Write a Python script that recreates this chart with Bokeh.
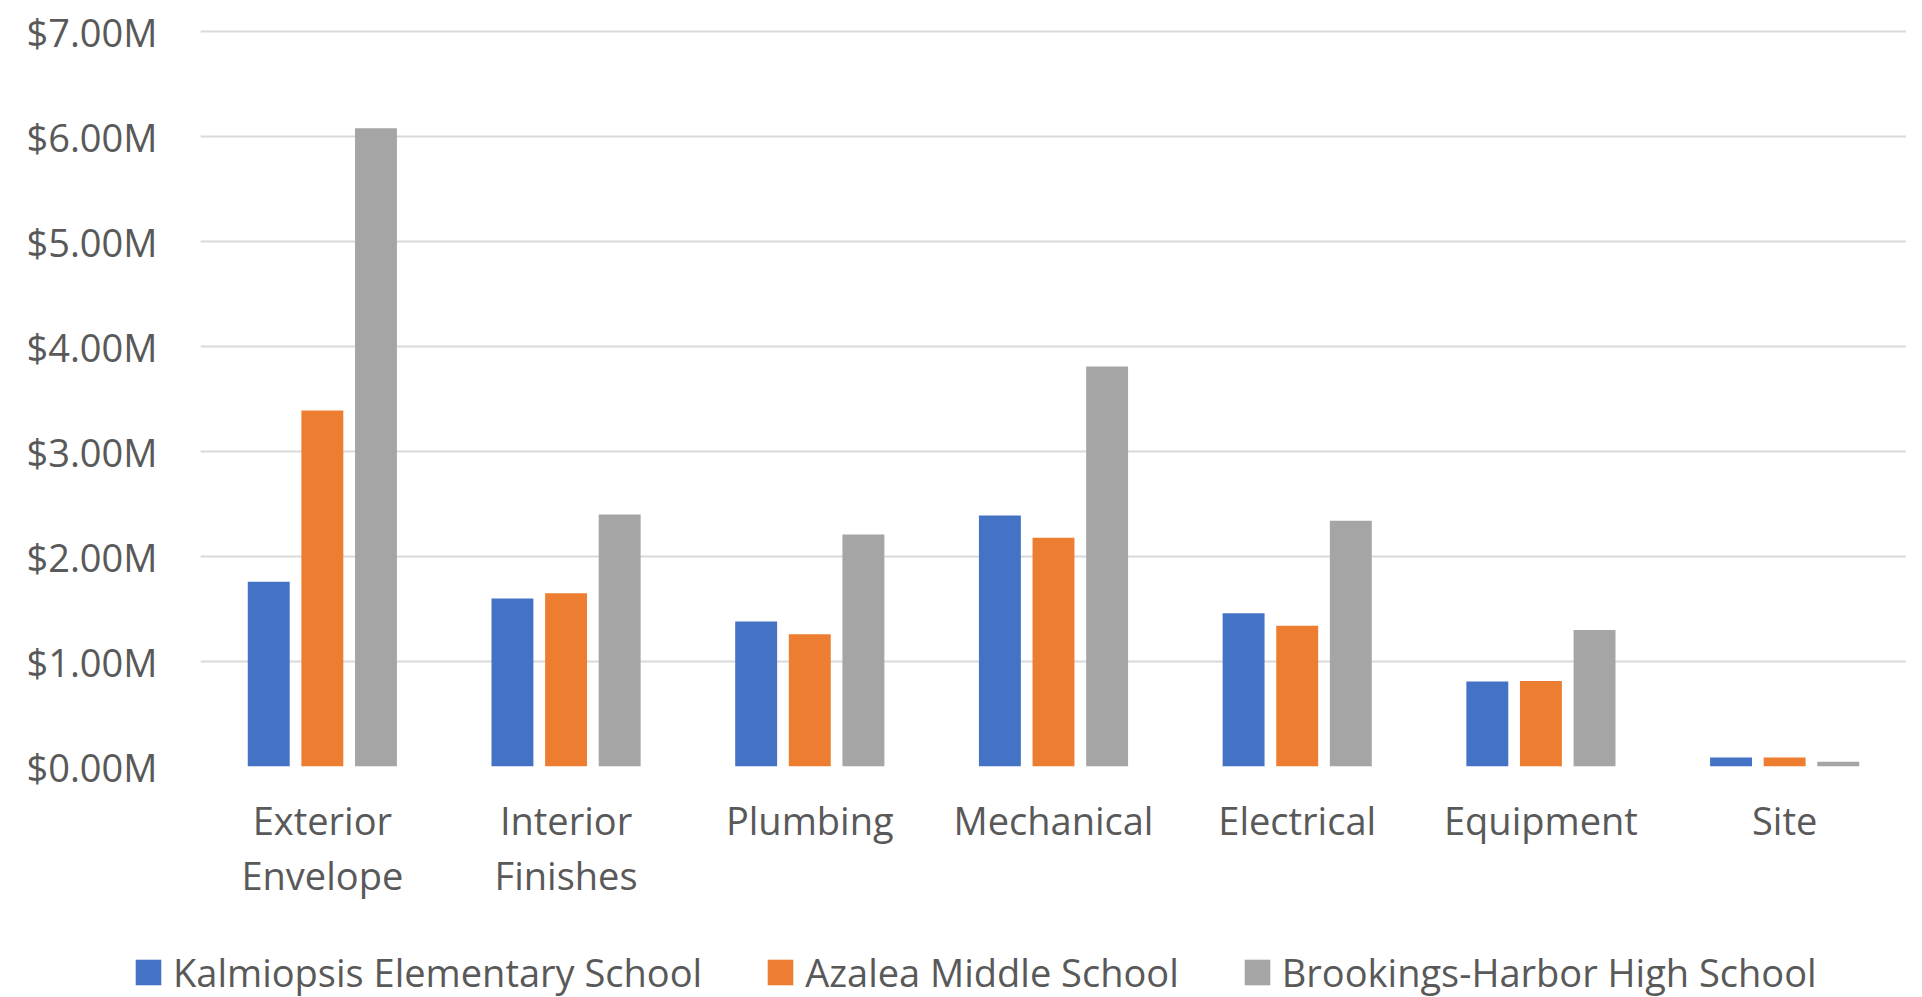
from bokeh.plotting import figure
from bokeh.models import (ColumnDataSource, FactorRange, Range1d, FixedTicker, PrintfTickFormatter,
                          Legend, LegendItem)
from bokeh.transform import dodge
from bokeh.embed import file_html
from bokeh.resources import INLINE

categories = ["Exterior\nEnvelope", "Interior\nFinishes", "Plumbing", "Mechanical",
              "Electrical", "Equipment", "Site"]
series_names = ["Kalmiopsis Elementary School", "Azalea Middle School", "Brookings-Harbor High School"]
# values in millions of dollars
kalmiopsis = [1.76, 1.60, 1.38, 2.39, 1.46, 0.81, 0.085]
azalea = [3.39, 1.65, 1.26, 2.18, 1.34, 0.815, 0.085]
brookings = [6.08, 2.40, 2.21, 3.81, 2.34, 1.30, 0.045]
y_ticks = [0, 1, 2, 3, 4, 5, 6, 7]

colors = ["#4472C4", "#ED7D31", "#A5A5A5"]
FONT = "Open Sans"
TXT = "#595959"

src = ColumnDataSource(dict(cat=categories, k=kalmiopsis, a=azalea, b=brookings))

p = figure(x_range=FactorRange(*categories, range_padding=0), y_range=Range1d(0, 7.02),
           frame_width=1706, frame_height=737,
           min_border_left=200, min_border_right=0, min_border_top=29, min_border_bottom=180,
           output_backend="svg", toolbar_location=None)

for col, off, c in zip(["k", "a", "b"], [-0.22, 0.0, 0.22], colors):
    p.vbar(x=dodge("cat", off, range=p.x_range), top=col, width=0.172, source=src,
           fill_color=c, line_color=None)

p.outline_line_color = None
p.background_fill_color = "white"
p.border_fill_color = "white"

p.xgrid.grid_line_color = None
p.ygrid.grid_line_color = "#D9D9D9"
p.ygrid.grid_line_width = 2
p.yaxis.ticker = FixedTicker(ticks=y_ticks)
p.yaxis.formatter = PrintfTickFormatter(format="$%.2fM")

for ax in (p.xaxis[0], p.yaxis[0]):
    ax.axis_line_color = None
    ax.major_tick_line_color = None
    ax.minor_tick_line_color = None
    ax.major_tick_out = 0
    ax.major_tick_in = 0
    ax.major_label_text_font = FONT
    ax.major_label_text_color = TXT

p.yaxis.major_label_text_font_size = "38px"
p.yaxis.major_label_standoff = 43
p.xaxis.major_label_text_font_size = "38px"
p.xaxis.major_label_standoff = 27
p.xaxis.major_label_text_line_height = 1.06

# legend strip below the chart (separate root, so no frame alignment)
lg = figure(width=1906, height=52, x_range=Range1d(0, 1), y_range=Range1d(0, 1),
            x_axis_location=None, y_axis_location=None, min_border=0,
            output_backend="svg", toolbar_location=None)
lg.outline_line_color = None
lg.xgrid.visible = False
lg.ygrid.visible = False
swatch = ColumnDataSource(dict(x=[-5], top=[0]))  # outside the visible range; only feeds legend swatches
items = []
for name, c in zip(series_names, colors):
    r = lg.vbar(x="x", top="top", width=0.1, source=swatch, fill_color=c, line_color=None)
    items.append(LegendItem(label=name, renderers=[r]))

legend = Legend(items=items, orientation="horizontal", location="left",
                label_text_font=FONT, label_text_font_size="38px", label_text_color=TXT,
                glyph_width=32, glyph_height=32, label_standoff=9, spacing=62,
                padding=0, margin=132, border_line_color=None, background_fill_alpha=0)
lg.add_layout(legend, "center")

open("out.html", "w").write(file_html([p, lg], INLINE))
